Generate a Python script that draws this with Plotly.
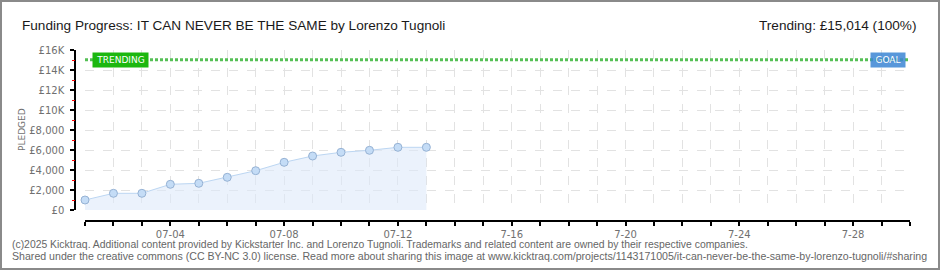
import plotly.graph_objects as go

# ---- data ----
dates = ["2025-07-01", "2025-07-02", "2025-07-03", "2025-07-04", "2025-07-05",
         "2025-07-06", "2025-07-07", "2025-07-08", "2025-07-09", "2025-07-10",
         "2025-07-11", "2025-07-12", "2025-07-13"]
pledged = [1000, 1670, 1670, 2570, 2670, 3270, 3930, 4770, 5400, 5770, 5970, 6270, 6270]

trending_value = 15014
goal_value = 15000

x_tick_dates = ["2025-07-%02d" % d for d in range(1, 31)]
x_tick_labels = ["" for _ in range(30)]
for day, lab in [(4, "07-04"), (8, "07-08"), (12, "07-12"), (16, "7-16"),
                 (20, "7-20"), (24, "7-24"), (28, "7-28")]:
    x_tick_labels[day - 1] = lab

y_tick_vals = [0, 2000, 4000, 6000, 8000, 10000, 12000, 14000, 16000]
y_tick_labels = ["£0", "£2,000", "£4,000", "£6,000", "£8,000", "£10K", "£12K", "£14K", "£16K"]
y_minor_vals = [1000, 3000, 5000, 7000, 9000, 11000, 13000, 15000]

title_text = "Funding Progress: IT CAN NEVER BE THE SAME by Lorenzo Tugnoli"
trend_text = "Trending: £15,014 (100%)"
footer1 = ("(c)2025 Kicktraq. Additional content provided by Kickstarter Inc. and Lorenzo Tugnoli. "
           "Trademarks and related content are owned by their respective companies.")
footer2 = ("Shared under the creative commons (CC BY-NC 3.0) license. Read more about sharing this image at "
           "www.kicktraq.com/projects/1143171005/it-can-never-be-the-same-by-lorenzo-tugnoli/#sharing")

# ---- geometry (pixels) ----
W, H = 940, 270
ML, MR, MT, MB = 75, 30, 50, 49
PW = W - ML - MR
PH = H - MT - MB


def px(xp):
    return (xp - ML) / PW


def py(yp):
    return (H - MB - yp) / PH


fig = go.Figure()

fig.add_trace(go.Scatter(
    x=dates, y=pledged, mode="lines+markers",
    line=dict(color="#bcd6f2", width=1),
    fill="tozeroy", fillcolor="rgba(222,234,250,0.6)",
    marker=dict(size=8, color="#c4dcf6", line=dict(color="#96b2d4", width=1)),
    cliponaxis=False, hoverinfo="skip", showlegend=False,
))

fig.add_trace(go.Scatter(
    x=[x_tick_dates[0], x_tick_dates[-1]], y=[trending_value, trending_value],
    mode="lines", line=dict(color="#55c055", width=3, dash="3px,2px"),
    hoverinfo="skip", showlegend=False,
))

# invisible trace to carry the minor (red) tick axis
fig.add_trace(go.Scatter(
    x=[x_tick_dates[0]], y=[0], yaxis="y2", mode="markers",
    marker=dict(opacity=0), hoverinfo="skip", showlegend=False,
))

tick_font = dict(family="DejaVu Sans", size=10, color="#707070")

fig.update_layout(
    width=W, height=H,
    margin=dict(l=ML, r=MR, t=MT, b=MB, pad=0),
    paper_bgcolor="white", plot_bgcolor="white",
    xaxis=dict(
        type="date", domain=[10 / PW, 1], anchor="free", position=0,
        range=[x_tick_dates[0], x_tick_dates[-1]],
        tickmode="array", tickvals=x_tick_dates, ticktext=x_tick_labels,
        ticks="outside", ticklen=4, tickwidth=1.5, tickcolor="black",
        showline=True, linecolor="black", linewidth=1.5,
        showgrid=True, gridcolor="#e2e2e2", griddash="dash", gridwidth=1,
        tickfont=tick_font, zeroline=False,
    ),
    yaxis=dict(
        domain=[11 / PH, 1], anchor="free", position=0,
        range=[0, 16000],
        tickmode="array", tickvals=y_tick_vals, ticktext=y_tick_labels,
        ticks="outside", ticklen=4, tickwidth=1.5, tickcolor="black",
        showline=True, linecolor="black", linewidth=1.5,
        showgrid=True, gridcolor="#e2e2e2", griddash="dash", gridwidth=1,
        tickfont=tick_font, zeroline=False,
        ticklabelstandoff=4,
    ),
    yaxis2=dict(
        domain=[11 / PH, 1], anchor="free", position=0, overlaying="y",
        range=[0, 16000],
        tickmode="array", tickvals=y_minor_vals, showticklabels=False,
        ticks="outside", ticklen=3, tickwidth=1, tickcolor="red",
        showline=False, showgrid=False, zeroline=False,
    ),
    shapes=[dict(type="rect", xref="paper", yref="paper",
                 x0=px(1), x1=px(939), y0=py(269), y1=py(1),
                 line=dict(color="#8a8a8a", width=2), fillcolor="rgba(0,0,0,0)",
                 layer="above")],
    annotations=[
        dict(text=title_text, xref="paper", yref="paper", x=px(20), y=py(25),
             xanchor="left", yanchor="middle", showarrow=False,
             font=dict(family="Liberation Sans", size=13.6, color="#1a1a1a")),
        dict(text=trend_text, xref="paper", yref="paper", x=px(918), y=py(25),
             xanchor="right", yanchor="middle", showarrow=False,
             font=dict(family="Liberation Sans", size=13.6, color="#1a1a1a")),
        dict(text="PLEDGED", xref="paper", yref="paper", x=px(22), y=py(130),
             xanchor="center", yanchor="middle", showarrow=False, textangle=-90,
             font=dict(family="DejaVu Sans", size=9, color="#707070")),
        dict(text="TRENDING", xref="paper", yref="y", x=px(120.5), y=trending_value,
             xanchor="center", yanchor="middle", showarrow=False,
             bgcolor="#1cb70f", borderpad=2, width=51,
             font=dict(family="DejaVu Sans", size=9, color="white")),
        dict(text="GOAL", xref="paper", yref="y", x=px(888), y=goal_value,
             xanchor="center", yanchor="middle", showarrow=False,
             bgcolor="#3b86d4", borderpad=2, width=30, opacity=0.85,
             font=dict(family="DejaVu Sans", size=9, color="white")),
        dict(text=footer1, xref="paper", yref="paper", x=px(10), y=py(244),
             xanchor="left", yanchor="middle", showarrow=False,
             font=dict(family="Liberation Sans", size=10.4, color="#666666")),
        dict(text=footer2, xref="paper", yref="paper", x=px(10), y=py(256),
             xanchor="left", yanchor="middle", showarrow=False,
             font=dict(family="Liberation Sans", size=10.6, color="#666666")),
    ],
)

fig.write_html("out.html")
